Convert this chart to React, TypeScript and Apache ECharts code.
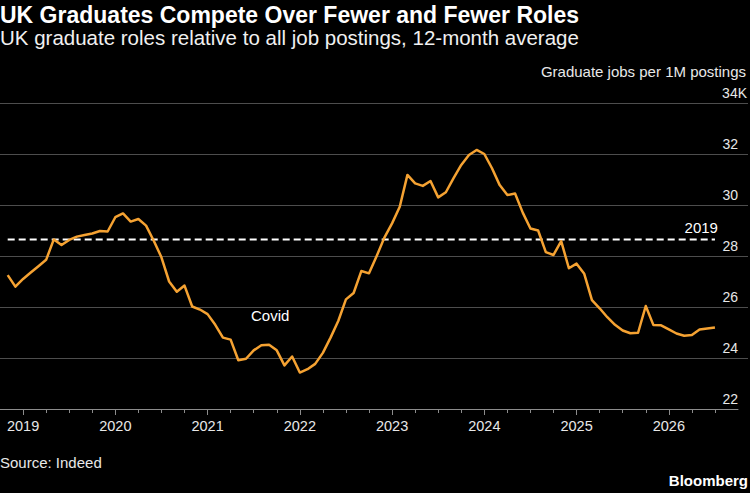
import React, { useEffect, useRef } from "react";
import * as echarts from "echarts";

// ---- data ----
const START_YEAR = 2018;
const START_MONTH = 11; // first observation: November 2018
const GRAD_JOBS_K = [
  27.25, 26.8, 27.1, 27.35, 27.6, 27.85, 28.65, 28.43, 28.63, 28.76, 28.82, 28.88,
  28.98, 28.96, 29.52, 29.67, 29.35, 29.45, 29.19, 28.6, 27.95, 27.0, 26.6, 26.84,
  26.02, 25.9, 25.72, 25.3, 24.8, 24.72, 23.91, 23.97, 24.3, 24.5, 24.52, 24.3,
  23.71, 24.06, 23.43, 23.56, 23.77, 24.2, 24.8, 25.45, 26.3, 26.55, 27.41, 27.32,
  28.0, 28.72, 29.28, 29.93, 31.18, 30.85, 30.75, 30.94, 30.3, 30.5, 31.05, 31.57,
  31.96, 32.16, 32.0, 31.44, 30.78, 30.39, 30.45, 29.7, 29.08, 29.0, 28.15, 28.04,
  28.58, 27.52, 27.7, 27.3, 26.27, 25.95, 25.6, 25.3, 25.08, 24.97, 24.99, 26.04,
  25.29, 25.28, 25.12, 24.96, 24.87, 24.9, 25.12, 25.16, 25.2,
];
const AVG_2019 = 28.65;
const AVG_LABEL = "2019";
const YEAR_LABELS = [2019, 2020, 2021, 2022, 2023, 2024, 2025, 2026];
const Y_MIN = 22;
const Y_MAX = 34;
const Y_STEP = 2;
const X_MIN = 2018.75;
const X_MAX = 2026.75;

const TITLE = "UK Graduates Compete Over Fewer and Fewer Roles";
const SUBTITLE = "UK graduate roles relative to all job postings, 12-month average";
const UNIT = "Graduate jobs per 1M postings";
const SOURCE = "Source: Indeed";

const FONT = '"Liberation Sans", Arial, "DejaVu Sans", sans-serif';
const ORANGE = "#F5A232";

const monthX = (i: number) => START_YEAR + (START_MONTH - 1 + i) / 12;
const QUARTER_TICKS: number[] = [];
for (let y = YEAR_LABELS[0]; y <= YEAR_LABELS[YEAR_LABELS.length - 1]; y++) {
  for (let q = 0; q < 4; q++) {
    const v = y + q * 0.25;
    if (v <= 2026.5) QUARTER_TICKS.push(v);
  }
}

export default function App() {
  const ref = useRef<HTMLDivElement>(null);
  useEffect(() => {
    document.body.style.margin = "0";
    document.body.style.background = "#000";
    const chart = echarts.init(ref.current!, undefined, { renderer: "svg" });
    const lineData = GRAD_JOBS_K.map((v, i) => [monthX(i), v]);
    const firstX = monthX(0);
    const lastX = monthX(GRAD_JOBS_K.length - 1);
    chart.setOption({
      animation: false,
      backgroundColor: "#000",
      textStyle: { fontFamily: FONT },
      grid: [
        { left: 0, right: 12, top: 103, bottom: 84 },
        { left: 0, right: 2, top: 103, bottom: 84 },
      ],
      xAxis: [
        {
          gridIndex: 0,
          type: "value",
          min: X_MIN,
          max: X_MAX,
          axisLine: { show: true, lineStyle: { color: "#8c8c8c", width: 1 } },
          axisTick: {
            show: true,
            customValues: YEAR_LABELS,
            length: 6,
            lineStyle: { color: "#8c8c8c" },
          },
          axisLabel: {
            customValues: YEAR_LABELS,
            formatter: (v: number) => String(Math.round(v)),
            color: "#e8e8e8",
            fontSize: 14.5,
            fontFamily: FONT,
            margin: 9,
          },
          splitLine: { show: false },
        },
        {
          gridIndex: 0,
          type: "value",
          min: X_MIN,
          max: X_MAX,
          position: "bottom",
          axisLine: { show: false },
          axisTick: {
            show: true,
            customValues: QUARTER_TICKS,
            length: 4,
            lineStyle: { color: "#8c8c8c" },
          },
          axisLabel: { show: false },
          splitLine: { show: false },
        },
        {
          gridIndex: 1,
          type: "value",
          min: X_MIN,
          max: X_MAX,
          show: false,
        },
      ],
      yAxis: [
        { gridIndex: 0, type: "value", min: Y_MIN, max: Y_MAX, interval: Y_STEP, show: false },
        {
          gridIndex: 1,
          type: "value",
          min: Y_MIN,
          max: Y_MAX,
          interval: Y_STEP,
          position: "right",
          axisLine: { show: false },
          axisTick: { show: false },
          splitLine: {
            show: true,
            showMinLine: false,
            lineStyle: { color: "#4d4d4d", width: 1 },
          },
          axisLabel: {
            inside: true,
            margin: 1,
            align: "right",
            verticalAlign: "bottom",
            padding: [0, 0, 3, 0],
            color: "#e8e8e8",
            fontSize: 14,
            fontFamily: FONT,
            formatter: (v: number) =>
              v === Y_MAX ? `{n|${v}}{k|K}` : `{n|${v}}{s| }`,
            rich: {
              n: { fontSize: 14, color: "#e8e8e8", fontFamily: FONT },
              k: { fontSize: 14, color: "#e8e8e8", fontFamily: FONT },
              s: { fontSize: 14, width: 9 },
            },
          },
        },
      ],
      series: [
        {
          type: "line",
          xAxisIndex: 0,
          yAxisIndex: 0,
          data: [[firstX, AVG_2019], [lastX, AVG_2019]],
          showSymbol: false,
          symbol: "none",
          lineStyle: { color: "#ffffff", width: 2, type: [7, 4] },
          endLabel: {
            show: true,
            formatter: AVG_LABEL,
            color: "#fff",
            fontSize: 15,
            fontFamily: FONT,
            align: "right",
            verticalAlign: "bottom",
            offset: [-5, -4],
          },
          z: 2,
          silent: true,
        },
        {
          type: "line",
          xAxisIndex: 0,
          yAxisIndex: 0,
          data: lineData,
          showSymbol: false,
          symbol: "none",
          lineStyle: { color: ORANGE, width: 2.5, join: "round" },
          z: 3,
          silent: true,
        },
      ],
      graphic: [
        {
          type: "text",
          left: 0,
          top: 3,
          style: { text: TITLE, fill: "#fff", fontSize: 23, fontWeight: "bold", fontFamily: FONT },
        },
        {
          type: "text",
          left: 0,
          top: 27,
          style: { text: SUBTITLE, fill: "#f0f0f0", fontSize: 20.5, fontFamily: FONT },
        },
        {
          type: "text",
          right: 4,
          top: 64,
          style: { text: UNIT, fill: "#e8e8e8", fontSize: 15, fontFamily: FONT },
        },
        {
          type: "text",
          left: 251,
          top: 308,
          style: { text: "Covid", fill: "#fff", fontSize: 15, fontFamily: FONT },
        },
        {
          type: "text",
          left: 0,
          top: 455,
          style: { text: SOURCE, fill: "#e8e8e8", fontSize: 15, fontFamily: FONT },
        },
        {
          type: "text",
          right: 2,
          top: 473,
          style: { text: "Bloomberg", fill: "#fff", fontSize: 15, fontWeight: "bold", fontFamily: FONT },
        },
      ],
    });
    return () => chart.dispose();
  }, []);
  return (
    <div
      ref={ref}
      style={{ position: "absolute", left: 0, top: 0, width: 750, height: 493, background: "#000" }}
    />
  );
}
